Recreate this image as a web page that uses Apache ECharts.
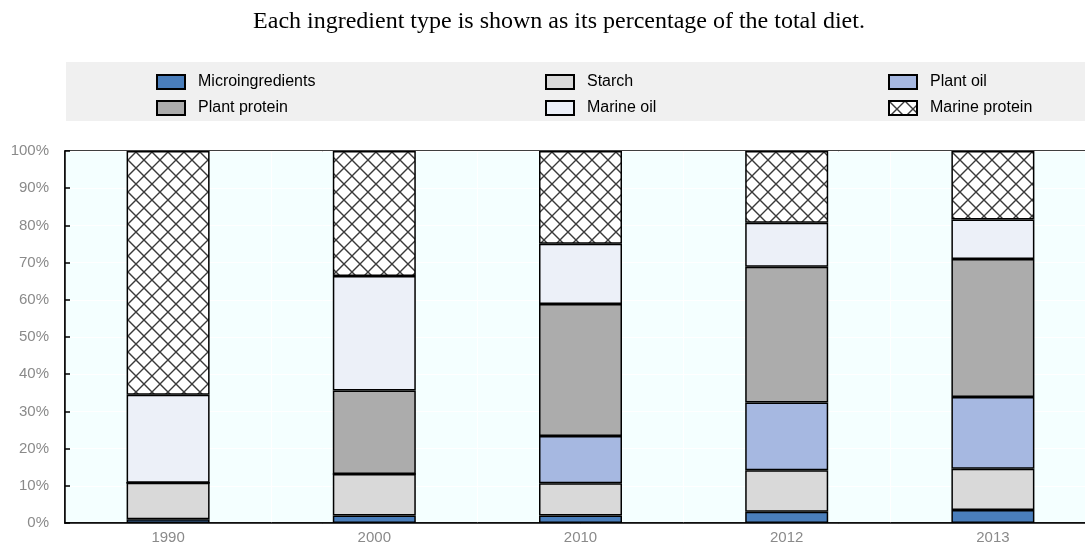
<!DOCTYPE html>
<html>
<head>
<meta charset="utf-8">
<script src="https://cdn.jsdelivr.net/npm/echarts@6/dist/echarts.min.js"></script>
<style>
  html, body { margin: 0; padding: 0; background: #fff; overflow: hidden; }
  #chart { width: 1100px; height: 547px; }
</style>
</head>
<body>
<div id="chart"></div>
<script>
var years = ["1990", "2000", "2010", "2012", "2013"];
var microingredients = [1, 2, 2, 3, 3.5];
var starch = [9.8, 11.2, 8.7, 11.2, 11.1];
var plantOil = [0, 0, 12.7, 18.2, 19.3];
var plantProtein = [0, 22.4, 35.5, 36.5, 37.1];
var marineOil = [23.7, 30.8, 16.2, 11.8, 10.6];
var marineProtein = [65.5, 33.6, 24.9, 19.3, 18.4];

var sans = "'Liberation Sans', Arial, sans-serif";

// cross-hatch for marine protein
function hatch() {
  var c = document.createElement("canvas");
  c.width = 16;
  c.height = 16;
  var ctx = c.getContext("2d");
  ctx.fillStyle = "#fff";
  ctx.fillRect(0, 0, 16, 16);
  ctx.strokeStyle = "#3a3a3a";
  ctx.lineWidth = 1.4;
  ctx.beginPath();
  ctx.moveTo(0, 0); ctx.lineTo(16, 16);
  ctx.moveTo(16, 0); ctx.lineTo(0, 16);
  ctx.stroke();
  return c;
}

function bar(name, data, color) {
  return {
    name: name,
    type: "bar",
    stack: "diet",
    barWidth: 83,
    data: data,
    itemStyle: { color: color, borderColor: "#000", borderWidth: 1.5 }
  };
}

function legendCol(left, names) {
  return {
    left: left,
    top: 74,
    orient: "vertical",
    icon: "rect",
    itemWidth: 28,
    itemHeight: 14,
    itemGap: 10,
    padding: 0,
    data: names,
    textStyle: { fontFamily: sans, fontSize: 16, lineHeight: 16, color: "#000", padding: [0, 0, 0, 8] }
  };
}

var chart = echarts.init(document.getElementById("chart"));
chart.setOption({
  animation: false,
  title: {
    text: "Each ingredient type is shown as its percentage of the total diet.",
    left: 559,
    textAlign: "center",
    top: 10,
    padding: 0,
    textStyle: { fontFamily: "'Liberation Serif', 'Times New Roman', serif", fontSize: 24, fontWeight: "normal", color: "#000" }
  },
  graphic: [{
    type: "rect",
    z: -1,
    shape: { x: 66, y: 62, width: 1034, height: 59 },
    style: { fill: "#f0f0f0" }
  }],
  legend: [
    legendCol(156, ["Microingredients", "Plant protein"]),
    legendCol(545, ["Starch", "Marine oil"]),
    legendCol(888, ["Plant oil", "Marine protein"])
  ],
  grid: {
    left: 65,
    top: 151,
    width: 1031,
    height: 372,
    show: true,
    backgroundColor: "#f4ffff",
    borderColor: "#000",
    borderWidth: 1.5
  },
  xAxis: {
    type: "category",
    data: years,
    axisLine: { lineStyle: { color: "#000", width: 1.5 } },
    axisTick: { inside: true, length: 5, lineStyle: { color: "#000", width: 1.5 } },
    splitLine: { show: true, lineStyle: { color: "#fff", width: 1 } },
    axisLabel: { color: "#8a8a8a", fontFamily: sans, fontSize: 15, margin: 7 }
  },
  yAxis: {
    type: "value",
    min: 0,
    max: 100,
    interval: 10,
    axisLine: { show: true, lineStyle: { color: "#000", width: 1.5 } },
    axisTick: { show: true, inside: true, length: 5, lineStyle: { color: "#000", width: 1.5 } },
    splitLine: { lineStyle: { color: "#fff", width: 1 } },
    axisLabel: { color: "#8a8a8a", fontFamily: sans, fontSize: 15, margin: 16, formatter: "{value}%" }
  },
  series: [
    bar("Microingredients", microingredients, "#4a7ebb"),
    bar("Starch", starch, "#d9d9d9"),
    bar("Plant oil", plantOil, "#a6b8e1"),
    bar("Plant protein", plantProtein, "#acacac"),
    bar("Marine oil", marineOil, "#ecf0f8"),
    bar("Marine protein", marineProtein, { image: hatch(), repeat: "repeat" })
  ]
});
</script>
</body>
</html>
